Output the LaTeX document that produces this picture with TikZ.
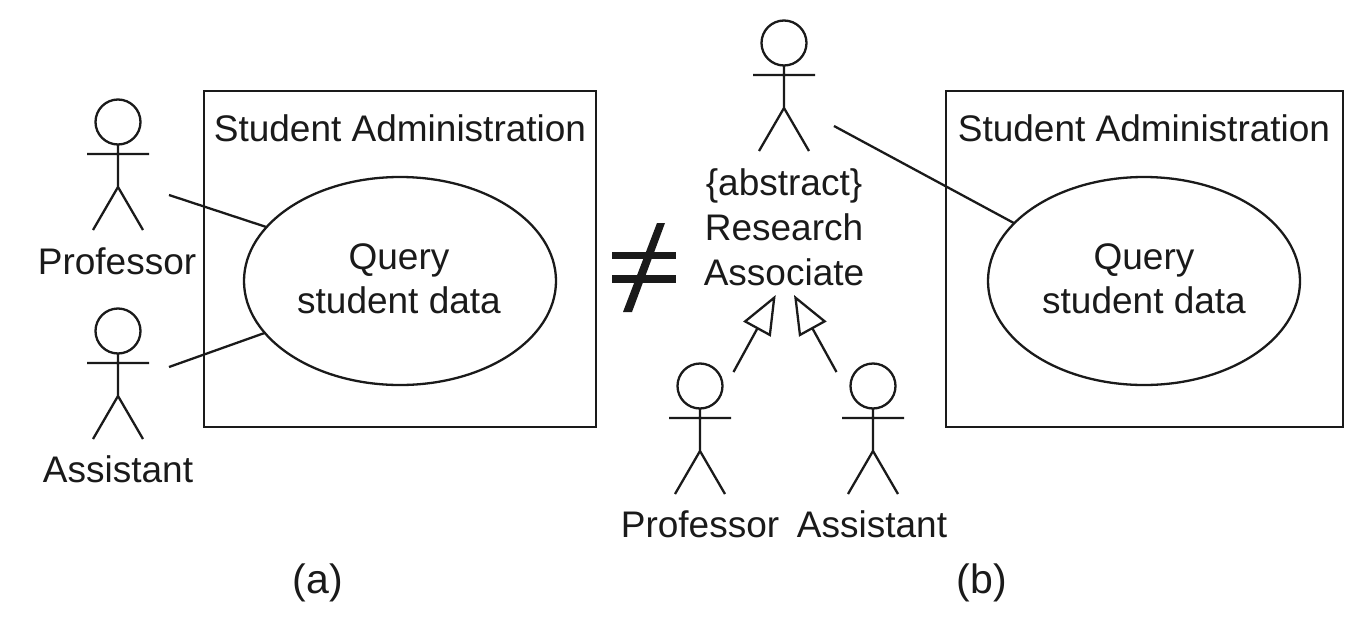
\documentclass[tikz,border=0pt]{standalone}
\usepackage{fontspec}
\setmainfont{Liberation Sans}
\usetikzlibrary{arrows.meta,shapes.geometric}
\definecolor{ink}{HTML}{1A1A1A}
\tikzset{
  lbl/.style={anchor=base,inner sep=0pt,outer sep=0pt,font=\fontsize{37}{45}\selectfont,text=ink},
  sublabel/.style={lbl,font=\fontsize{41}{45}\selectfont},
  conn/.style={draw=ink,line width=2.3pt},
  sysbox/.style={conn,rectangle,minimum width=392pt,minimum height=336pt,inner sep=0pt,outer sep=0pt,anchor=north west},
  usecase/.style={conn,ellipse,minimum width=312pt,minimum height=208pt,inner sep=0pt,outer sep=0pt},
  gen/.style={conn,-{Triangle[open,length=39pt,width=31pt,line width=2.3pt]}},
  actor/.pic={
    \node[conn,circle,minimum size=45pt,inner sep=0pt,outer sep=0pt] (-head) at (0,0) {};
    \draw[conn] (-head.south) -- (0,65) (-31,32) -- (31,32) (-25,108) -- (0,65) -- (25,108);
  }
}
\begin{document}
\begin{tikzpicture}[x=1pt,y=-1pt]
\useasboundingbox (0,0) rectangle (1366,624);
\node[sysbox] (boxa) at (204,91) {};
\node[sysbox,minimum width=397pt] (boxb) at (946,91) {};
\node[lbl] (ta) at (400,141) {Student Administration};
\node[lbl] (tb) at (1144,141) {Student Administration};
\node[usecase] (uca) at (400,281) {};
\node[usecase] (ucb) at (1144,281) {};
\node[lbl] (qa) at (399,269) {Query};
\node[lbl] (sa) at (399,313) {student data};
\node[lbl] (qb) at (1144,269) {Query};
\node[lbl] (sb) at (1144,313) {student data};
\pic (a1) at (118,122) {actor};
\pic (a2) at (118,331) {actor};
\pic (r0) at (784,43) {actor};
\pic (r1) at (700,386) {actor};
\pic (r2) at (873,386) {actor};
\node[lbl] (n1) at (117,274) {Professor};
\node[lbl] (n2) at (118,482) {Assistant};
\node[lbl] (n3) at (700,537) {Professor};
\node[lbl] (n4) at (872,537) {Assistant};
\node[lbl] (l1) at (784,195) {\{abstract\}};
\node[lbl] (l2) at (784,240) {Research};
\node[lbl] (l3) at (784,285) {Associate};
\node[sublabel] (ca) at (318,593) {(a)};
\node[sublabel] (cb) at (982,593) {(b)};
\coordinate (e1) at (169,195);
\coordinate (e2) at (169,367);
\coordinate (e3) at (834,126);
\coordinate (g1s) at (733.5,372);
\coordinate (g1t) at (775.7,295);
\coordinate (g2s) at (836.5,372);
\coordinate (g2t) at (794,295);
\draw[conn] (e1) -- (uca.158);
\draw[conn] (e2) -- (uca.201);
\draw[conn] (e3) -- (ucb.156.6);
\draw[gen] (g1s) -- (g1t);
\draw[gen] (g2s) -- (g2t);
\fill[ink] (612,252) rectangle (676,259);
\fill[ink] (612,275) rectangle (676,283);
\fill[ink] (657,223) -- (665,223) -- (632,312) -- (623,312) -- cycle;
\end{tikzpicture}
\end{document}
